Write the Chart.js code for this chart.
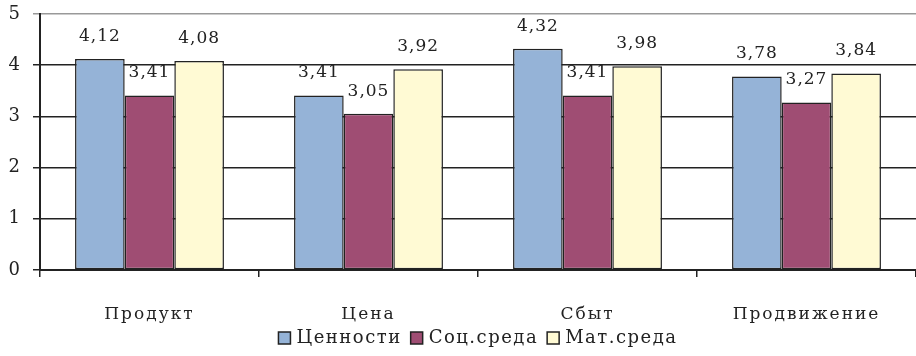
<!DOCTYPE html>
<html>
<head>
<meta charset="utf-8">
<script src="https://cdn.jsdelivr.net/npm/chart.js@4/dist/chart.umd.min.js"></script>
<style>
  html, body { margin: 0; padding: 0; background: #fff; }
  #wrap { width: 916px; height: 356px; }
</style>
</head>
<body>
<div id="wrap"><canvas id="c" width="916" height="356"></canvas></div>
<script>
// data
const categories = ["Продукт", "Цена", "Сбыт", "Продвижение"];
const seriesNames = ["Ценности", "Соц.среда", "Мат.среда"];
const cennosti = [4.12, 3.41, 4.32, 3.78];
const socSreda = [3.41, 3.05, 3.41, 3.27];
const matSreda = [4.08, 3.92, 3.98, 3.84];
const yTicks = [0, 1, 2, 3, 4, 5];

const colors = ["#95b3d7", "#9f4d73", "#fffad4"];
const FONT = "'DejaVu Serif', 'Liberation Serif', serif";

// wide letter spacing like the original
const spacing = {
  id: "spacing",
  beforeInit(chart) { chart.ctx.letterSpacing = "2px"; },
  beforeUpdate(chart) { chart.ctx.letterSpacing = "2px"; },
  beforeDraw(chart) { chart.ctx.letterSpacing = "2px"; }
};

// value labels above each bar
const valueLabels = {
  id: "valueLabels",
  afterDatasetsDraw(chart) {
    const ctx = chart.ctx;
    ctx.save();
    ctx.font = "17px " + FONT;
    ctx.letterSpacing = "1px";
    ctx.fillStyle = "#222";
    ctx.textAlign = "center";
    ctx.textBaseline = "bottom";
    chart.data.datasets.forEach((ds, i) => {
      const meta = chart.getDatasetMeta(i);
      meta.data.forEach((bar, j) => {
        const txt = ds.data[j].toFixed(2).replace(".", ",");
        ctx.fillText(txt, bar.x, bar.y - 14);
      });
    });
    ctx.restore();
  }
};

// legend row under the category labels, centered on the plot
const bottomLegend = {
  id: "bottomLegend",
  afterDraw(chart) {
    const ctx = chart.ctx;
    const area = chart.chartArea;
    ctx.save();
    ctx.font = "18px " + FONT;
    ctx.letterSpacing = "1.5px";
    ctx.textBaseline = "middle";
    ctx.textAlign = "left";
    const box = 12, gapBox = 6, gapItem = 9;
    const items = chart.data.datasets.map(d => ({
      text: d.label, color: d.backgroundColor, w: ctx.measureText(d.label).width
    }));
    let total = 0;
    items.forEach((it, i) => { total += box + gapBox + it.w + (i ? gapItem : 0); });
    let x = (area.left + area.right) / 2 - total / 2;
    const y = 338;
    items.forEach(it => {
      ctx.fillStyle = it.color;
      ctx.fillRect(x, y - box / 2, box, box);
      ctx.strokeStyle = "#222";
      ctx.lineWidth = 1.5;
      ctx.strokeRect(x, y - box / 2, box, box);
      ctx.fillStyle = "#222";
      ctx.fillText(it.text, x + box + gapBox, y);
      x += box + gapBox + it.w + gapItem;
    });
    ctx.restore();
  }
};

const ds = [cennosti, socSreda, matSreda].map((vals, i) => ({
  label: seriesNames[i],
  data: vals,
  backgroundColor: colors[i],
  borderColor: "#222",
  borderWidth: 1.5,
  borderSkipped: false,
  categoryPercentage: 0.68,
  barPercentage: 1.0
}));

new Chart(document.getElementById("c"), {
  type: "bar",
  data: { labels: categories, datasets: ds },
  plugins: [spacing, valueLabels, bottomLegend],
  options: {
    responsive: false,
    animation: false,
    layout: { padding: { top: 14, right: 0, left: 2, bottom: 30 } },
    plugins: {
      tooltip: { enabled: false },
      legend: { display: false }
    },
    scales: {
      x: {
        offset: true,
        afterFit(axis) { axis.height = 56; },
        grid: {
          offset: true,
          drawOnChartArea: false,
          drawTicks: true,
          tickLength: 7,
          color: "#222",
          lineWidth: 1.5
        },
        border: { color: "#222", width: 2 },
        ticks: {
          font: { family: FONT, size: 17 },
          color: "#222",
          padding: 27,
          maxRotation: 0
        }
      },
      y: {
        min: 0,
        max: 5,
        afterBuildTicks(axis) { axis.ticks = yTicks.map(v => ({ value: v })); },
        afterFit(axis) {
          axis.width = 38;
          axis.paddingTop = 0;
          axis.paddingBottom = 0;
        },
        grid: {
          color: c => (c.tick && c.tick.value === 5 ? "#999" : "#222"),
          lineWidth: 1.5,
          tickLength: 7
        },
        border: { color: "#222", width: 2 },
        ticks: {
          font: { family: FONT, size: 18 },
          color: "#222",
          padding: 11
        }
      }
    }
  }
});
</script>
</body>
</html>
